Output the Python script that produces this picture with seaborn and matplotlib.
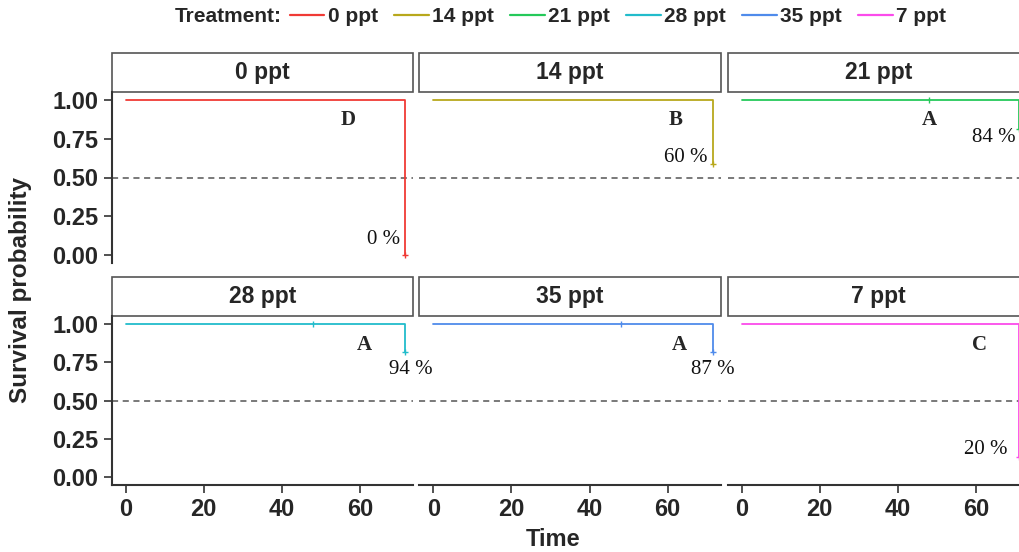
import numpy as np
import pandas as pd
import matplotlib
matplotlib.use("Agg")
import matplotlib.pyplot as plt
import seaborn as sns
from matplotlib.patches import Rectangle
from matplotlib.lines import Line2D

# ── Data ─────────────────────────────────────────────────────────────
treatments  = ["0 ppt", "14 ppt", "21 ppt", "28 ppt", "35 ppt", "7 ppt"]
end_time    = [71.5, 71.5, 71, 71.5, 71.5, 71]
final_surv  = [0.00, 0.59, 0.81, 0.82, 0.82, 0.13]
censor_time = [None, None, 48, 48, 48, None]
surv_labels = ["0 %", "60 %", "84 %", "94 %", "87 %", "20 %"]
letters     = ["D", "B", "A", "A", "A", "C"]
palette     = ["#F03A35", "#B8A81C", "#25C95A", "#22BCCB", "#4F8BEB", "#FB4BEB"]

# annotation positions (data coords)
letter_pos = [(57, 0.87), (62, 0.87), (48, 0.87), (61, 0.86), (63, 0.86), (61, 0.86)]
pct_pos    = [(66, 0.10), (64.5, 0.63), (64.5, 0.76), (73, 0.70), (71.5, 0.70), (62.5, 0.18)]

rows = []
for t, e, s in zip(treatments, end_time, final_surv):
    rows.append((t, 0.0, 1.0))
    rows.append((t, e, s))
df = pd.DataFrame(rows, columns=["treatment", "time", "surv"])

# ── Style ────────────────────────────────────────────────────────────
sns.set_style("white")
plt.rcParams['font.family'] = ['Liberation Sans', 'DejaVu Sans']
plt.rcParams['font.weight'] = 'bold'

g = sns.FacetGrid(df, col="treatment", col_wrap=3, col_order=treatments,
                  hue="treatment", hue_order=treatments, palette=palette,
                  sharex=True, sharey=True, despine=False)
g.map_dataframe(sns.lineplot, x="time", y="surv", estimator=None,
                drawstyle="steps-post", linewidth=1.3)
fig = g.figure
fig.set_size_inches(10.19, 5.52)

W, H = 1019, 552
col_left = [111.6, 419.3, 727.6]
pw = 301.5
row_span = [(92.25, 262.75), (316.4, 484.7)]
strip_h = 39

for i, ax in enumerate(g.axes.flat):
    r, c = divmod(i, 3)
    top, bot = row_span[r]
    ax.set_position([col_left[c] / W, 1 - bot / H, pw / W, (bot - top) / H])
    ax.set_facecolor("none")
    ax.set_title("")
    ax.set_xlabel(""); ax.set_ylabel("")
    ax.set_xlim(-3.6, 73.6)
    ax.set_ylim(-0.05, 1.05)
    ax.axhline(0.5, color="#555555", lw=1.1, ls=(0, (4, 3)), zorder=1)

    col = palette[i]
    ct = censor_time[i]
    if ct is not None:
        ax.plot([ct], [1.0], marker="|", ms=5, mew=1.0, color=col)
    ax.plot([end_time[i]], [final_surv[i]], marker="+", ms=5, mew=1.0, color=col)

    lx, ly = letter_pos[i]
    ax.text(lx, ly, letters[i], family="Liberation Serif", fontweight="bold",
            fontsize=15, ha="center", va="center", zorder=5)
    px, py = pct_pos[i]
    ax.text(px, py, surv_labels[i], family="Liberation Serif", fontweight="normal",
            fontsize=15, ha="center", va="center", color="#111111", zorder=5)

    # strip
    sh = strip_h / (bot - top)
    ax.add_patch(Rectangle((0, 1), 1, sh, transform=ax.transAxes, clip_on=False,
                           facecolor="white", edgecolor="#555555", lw=1.2))
    ax.text(0.5, 1 + sh / 2, treatments[i], transform=ax.transAxes,
            ha="center", va="center", fontsize=16.5, fontweight="bold")

    for s in ["top", "right"]:
        ax.spines[s].set_visible(False)
    ax.spines["left"].set_visible(c == 0)
    ax.spines["bottom"].set_visible(r == 1)
    for s in ["left", "bottom"]:
        ax.spines[s].set_color("#333333")
        ax.spines[s].set_linewidth(1.5)

    ax.set_xticks([0, 20, 40, 60])
    ax.set_yticks([0, 0.25, 0.5, 0.75, 1.0])
    ax.set_yticklabels(["0.00", "0.25", "0.50", "0.75", "1.00"])
    ax.tick_params(axis="both", length=5.5, width=1.2, color="#333333",
                   labelsize=17, pad=4)
    ax.tick_params(axis="x", bottom=(r == 1), labelbottom=(r == 1))
    ax.tick_params(axis="y", left=(c == 0), labelleft=(c == 0))

fig.text(21 / W, 1 - 290 / H, "Survival probability", rotation=90,
         ha="center", va="center", fontsize=17.5, fontweight="bold")
fig.text(553 / W, 1 - 540 / H, "Time", ha="center", va="center",
         fontsize=17, fontweight="bold")

# legend
fig.text(175 / W, 1 - 17 / H, "Treatment:", ha="left", va="center",
         fontsize=15, fontweight="bold")
handles = [Line2D([0], [0], color=c, lw=1.6) for c in palette]
fig.legend(handles, treatments, loc="center left", bbox_to_anchor=(290 / W, 1 - 17 / H),
           ncol=6, frameon=False, handlelength=1.65, handletextpad=0.15,
           columnspacing=0.8, borderpad=0, borderaxespad=0,
           prop={"size": 15, "weight": "bold"})

fig.savefig("out.png", dpi=100)
